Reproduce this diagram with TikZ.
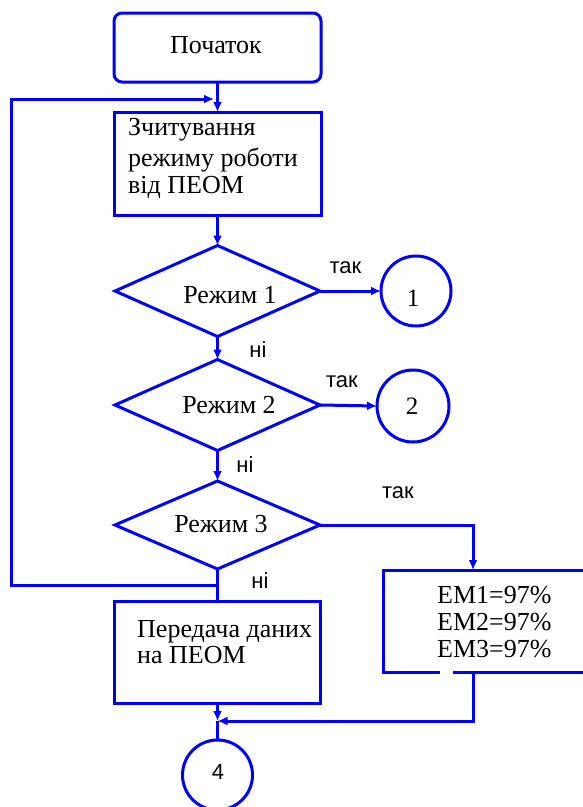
\documentclass[tikz,border=0pt]{standalone}
\usepackage{fontspec}
\setmainfont{Liberation Serif}
\newfontfamily\labelfont{Liberation Sans}
\usetikzlibrary{arrows.meta,shapes.geometric}
\begin{document}
\begin{tikzpicture}[x=1pt,y=-1pt,
  conn/.style={draw=blue, line width=3pt},
  arr/.style={conn, -{Latex[length=10pt,width=9pt]}},
  boxnode/.style={draw=blue, line width=3pt, rectangle, inner sep=0pt, outer sep=0pt},
  decision/.style={draw=blue, line width=3pt, diamond, inner sep=0pt, outer sep=0pt},
  connector/.style={draw=blue, line width=3pt, circle, inner sep=0pt, outer sep=0pt},
  txt/.style={font=\fontsize{26}{30}\selectfont, inner sep=0pt, text=black},
  digit/.style={font=\fontsize{25}{29}\selectfont, inner sep=0pt, text=black, anchor=base},
  lbl/.style={font=\labelfont\fontsize{22}{26}\selectfont, inner sep=0pt, anchor=base, text=black},
]
\useasboundingbox (0,0) rectangle (583,807);
\fill[white] (0,0) rectangle (583,807);
\clip (0,0) rectangle (583,807);

% shapes
\node[boxnode, rounded corners=8pt, minimum width=207pt, minimum height=69pt] (start) at (217.5,47.5) {};
\node[boxnode, minimum width=207pt, minimum height=103pt] (read) at (217.5,163.5) {};
\node[decision, minimum width=205pt, minimum height=91pt] (d1) at (217.5,291) {};
\node[decision, minimum width=205pt, minimum height=91pt] (d2) at (217.5,405) {};
\node[decision, minimum width=205pt, minimum height=88pt] (d3) at (217.5,525) {};
\node[boxnode, minimum width=206pt, minimum height=102pt] (pered) at (217.5,652) {};
\node[boxnode, minimum width=217pt, minimum height=102pt] (em) at (491.5,621) {};
\node[connector, minimum size=70pt] (c1) at (416,291) {};
\node[connector, minimum size=72pt] (c2) at (413,406) {};
\node[connector, minimum size=70pt] (c4) at (217.5,775) {};

% gap in the bottom edge of the EM box
\draw[white, line width=4pt] (440,672) -- (453,672);

% texts
\node[txt, anchor=base] (tstart) at (216,53) {Початок};
\node[txt, anchor=base west] (tr1) at (128,135) {Зчитування};
\node[txt, anchor=base west] (tr2) at (128,166) {режиму роботи};
\node[txt, anchor=base west] (tr3) at (128,193) {від ПЕОМ};
\node[txt, anchor=base] (tm1) at (230,303) {Режим 1};
\node[txt, anchor=base] (tm2) at (229,413) {Режим 2};
\node[txt, anchor=base] (tm3) at (221,532) {Режим 3};
\node[digit] (n1) at (413,306) {1};
\node[digit] (n2) at (412,414) {2};
\node[lbl] (n4) at (218,779) {4};
\node[txt, anchor=base west] (tp1) at (137,637) {Передача даних};
\node[txt, anchor=base west] (tp2) at (137,663) {на ПЕОМ};
\node[txt, anchor=base west] (te1) at (437,603) {EM1=97\%};
\node[txt, anchor=base west] (te2) at (437,630) {EM2=97\%};
\node[txt, anchor=base west] (te3) at (437,657) {EM3=97\%};
\node[lbl] (y1) at (345.5,273) {так};
\node[lbl] (no1) at (258,357) {ні};
\node[lbl] (y2) at (342,387) {так};
\node[lbl] (no2) at (245,472) {ні};
\node[lbl] (y3) at (398,498) {так};
\node[lbl] (no3) at (260,588) {ні};

% helper coordinates
\coordinate (loopin) at (214,99);
\coordinate (loopL2) at (11,99);
\coordinate (loopL1) at (11,585);
\coordinate (split) at (217.5,585);
\coordinate (emin) at (473,570);
\coordinate (emout) at (473,672);
\coordinate (emcorner) at (473,721);
\coordinate (join) at (217.5,721);

% connectors
\draw[arr] (start.south) -- (read.north);
\draw[arr] (read.south) -- (d1.north);
\draw[arr] (d1.east) -- (c1.west);
\draw[arr] (d1.south) -- (d2.north);
\draw[arr] (d2.east) -- (c2.west);
\draw[arr] (d2.south) -- (d3.north);
\draw[arr] (d3.east) -| (emin);
\draw[conn] (d3.south) -- (split) -- (pered.north);
\draw[arr] (split) -- (loopL1) -- (loopL2) -- (loopin);
\draw[arr] (pered.south) -- (join);
\draw[arr] (emout) -- (emcorner) -- (join);
\draw[conn] (join) -- (c4.north);
\end{tikzpicture}
\end{document}
